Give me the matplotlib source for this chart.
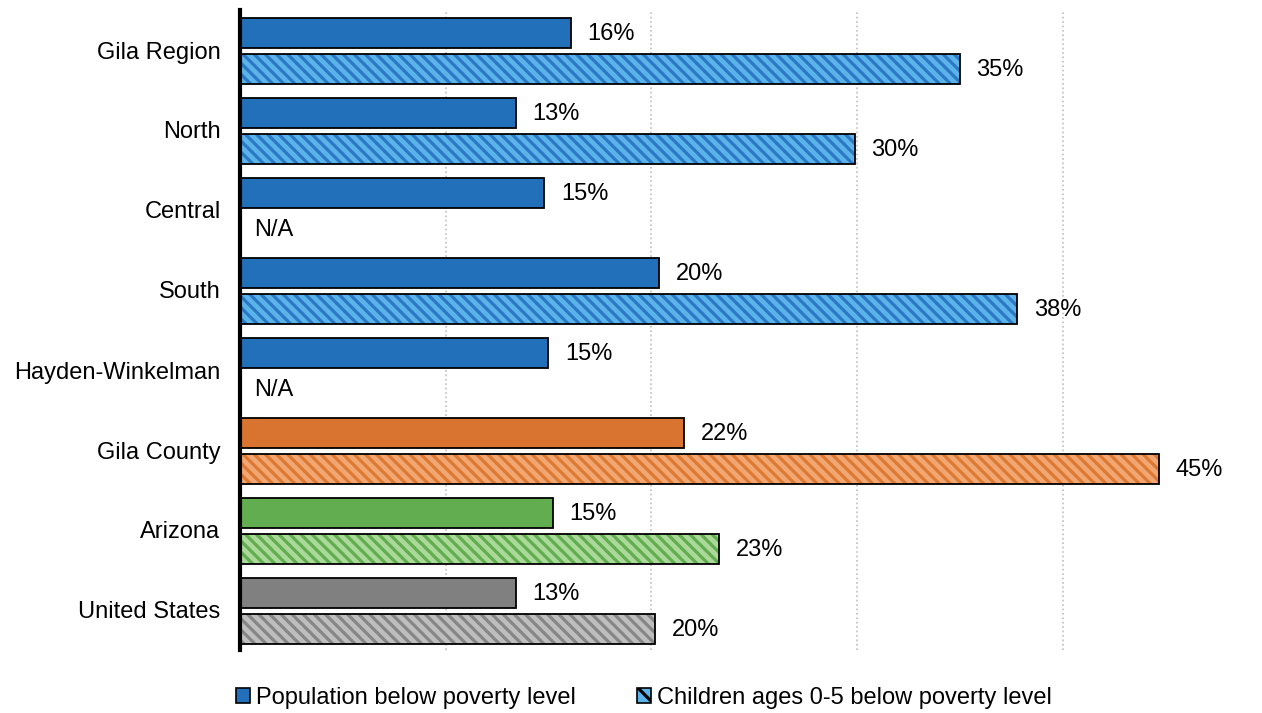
import numpy as np
import matplotlib.pyplot as plt
from matplotlib.patches import Patch

plt.rcParams['font.family'] = ['Liberation Sans', 'DejaVu Sans']
plt.rcParams['hatch.linewidth'] = 2.3

regions = ['Gila Region', 'North', 'Central', 'South', 'Hayden-Winkelman',
           'Gila County', 'Arizona', 'United States']
population = [16.1, 13.4, 14.8, 20.4, 15.0, 21.6, 15.2, 13.4]
children = [35.0, 29.9, None, 37.8, None, 44.7, 23.3, 20.2]

solid_colors = ['#2270BA', '#2270BA', '#2270BA', '#2270BA', '#2270BA',
                '#D8742F', '#62AD4F', '#808080']
hatch_face = ['#5AB4EA', '#5AB4EA', '#5AB4EA', '#5AB4EA', '#5AB4EA',
              '#F2A773', '#AAD99A', '#BEBEBE']
hatch_line = ['#2C78C4', '#2C78C4', '#2C78C4', '#2C78C4', '#2C78C4',
              '#DC7A33', '#62AD4F', '#868686']

fig = plt.figure(figsize=(12.62, 7.13), dpi=100)
ax = fig.add_axes([240 / 1262, 1 - 650 / 713, 1 - 240 / 1262, 640 / 713])

y = np.arange(len(regions))
h = 0.37
off = 0.225
dy = 0.015   # small nudge downwards
ty = 0.03    # labels sit slightly lower than bar centre

for i in range(len(regions)):
    ax.barh(y[i] - off + dy, population[i], height=h, color=solid_colors[i],
            edgecolor='black', linewidth=1.3, zorder=3)
    ax.text(population[i] + 0.8, y[i] - off + ty, f'{population[i]:.0f}%',
            va='center', ha='left', fontsize=17, color='black')
    if children[i] is None:
        ax.text(0.7, y[i] + off + ty, 'N/A', va='center', ha='left',
                fontsize=17, color='black')
    else:
        ax.barh(y[i] + off + dy, children[i], height=h, color=hatch_face[i],
                edgecolor=hatch_line[i], hatch='\\\\\\', linewidth=0, zorder=3)
        ax.barh(y[i] + off + dy, children[i], height=h, fill=False,
                edgecolor='black', linewidth=1.3, zorder=4)
        ax.text(children[i] + 0.8, y[i] + off + ty, f'{children[i]:.0f}%',
                va='center', ha='left', fontsize=17, color='black')

ax.set_xlim(0, 49.7)
ax.set_ylim(len(regions) - 0.5, -0.5)
ax.set_yticks(y)
ax.set_yticklabels(regions, fontsize=17)
ax.set_xticks([10, 20, 30, 40])
ax.tick_params(axis='x', length=0, labelbottom=False)
ax.tick_params(axis='y', length=0, pad=14)
ax.grid(axis='x', color='#BFBFBF', linestyle=':', linewidth=1.2, zorder=0)

for s in ['top', 'right', 'bottom']:
    ax.spines[s].set_visible(False)
ax.spines['left'].set_linewidth(3)
ax.spines['left'].set_zorder(5)

handles = [
    Patch(facecolor='#2270BA', edgecolor='black', linewidth=1.2,
          label='Population below poverty level'),
    Patch(facecolor='#5AB4EA', edgecolor='black', hatch='\\\\', linewidth=1.2,
          label='Children ages 0-5 below poverty level'),
]
fig.legend(handles=handles, loc='center', bbox_to_anchor=(644 / 1262, 1 - 698 / 713),
           ncol=2, frameon=False, fontsize=17, handlelength=0.6, handleheight=0.6,
           handletextpad=0.25, columnspacing=2.58)

fig.savefig('out.png', dpi=100)
